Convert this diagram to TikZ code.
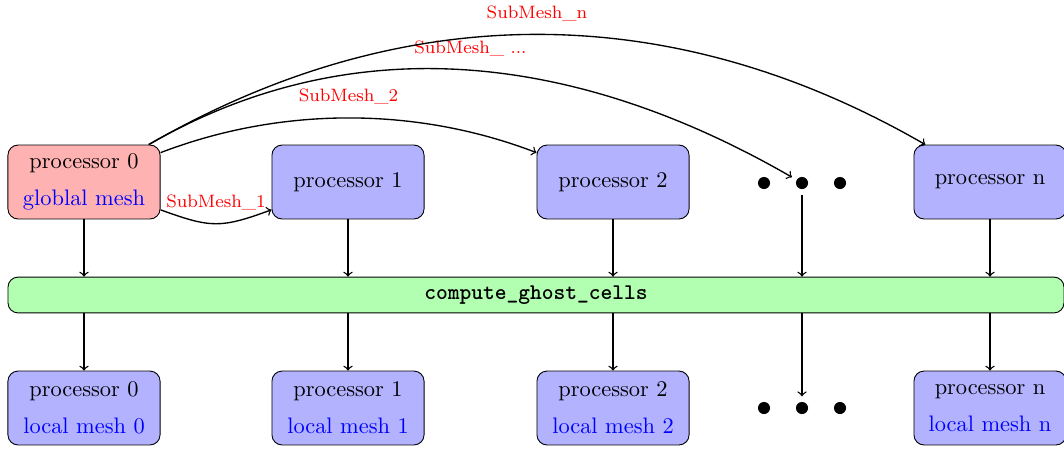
\documentclass[tikz,border=0pt]{standalone}
\begin{document}
\begin{tikzpicture}[x=0.4464pt, y=-0.4464pt,
  procbox/.style={draw, rounded corners=4.5pt, minimum width=67.9pt,
    minimum height=33pt, align=center, fill=blue!30, inner sep=2pt},
  rootbox/.style={procbox, fill=red!30},
  phasebar/.style={draw, rounded corners=4.5pt, minimum width=471.4pt,
    minimum height=16pt, fill=green!30, font=\ttfamily\bfseries},
  dotnode/.style={circle, fill, inner sep=0pt, minimum size=5.4pt, outer sep=2.5pt},
  meshlbl/.style={font=\footnotesize, text=red, above=2.5pt},
  link/.style={->, semithick}]
\useasboundingbox (0,0) rectangle (1064,450);

% processors holding the input meshes
\node[rootbox] (p0) at (84,182) {processor 0\\[4.5pt]{\color{blue}globlal mesh}};
\node[procbox] (p1) at (348,182) {processor 1};
\node[procbox] (p2) at (613,182) {processor 2};
\node[dotnode] (a1) at (764,183) {};
\node[dotnode] (a2) at (802,183) {};
\node[dotnode] (a3) at (840,183) {};
\node[procbox] (pn) at (990,182) {processor n};

% common phase
\node[phasebar] (bar) at (536,295) {compute\_ghost\_cells};

% processors holding the local meshes
\node[procbox] (q0) at (84,408) {processor 0\\[4.5pt]{\color{blue}local mesh 0}};
\node[procbox] (q1) at (348,408) {processor 1\\[4.5pt]{\color{blue}local mesh 1}};
\node[procbox] (q2) at (613,408) {processor 2\\[4.5pt]{\color{blue}local mesh 2}};
\node[dotnode] (b1) at (764,408) {};
\node[dotnode] (b2) at (802,408) {};
\node[dotnode] (b3) at (840,408) {};
\node[procbox] (qn) at (990,408) {processor n\\[4.5pt]{\color{blue}local mesh n}};

% distribution of the sub-meshes
\draw[link] (p0) to[bend right=20, looseness=1.25] node[meshlbl] {SubMesh\_1} (p1);
\draw[link] (p0) to[bend left=21, looseness=0.88] node[meshlbl] {SubMesh\_2} (p2);
\draw[link] (p0) to[out=30, in=150, looseness=0.96] node[meshlbl] {SubMesh\_ ...} (a2);
\draw[link] (p0) to[out=30, in=150, looseness=0.97] node[meshlbl] {SubMesh\_n} (pn);

% into and out of the ghost-cell phase
\foreach \n in {p0,p1,p2,a2,pn}
  \draw[link] (\n) -- (\n |- bar.north);
\foreach \n in {q0,q1,q2,b2,qn}
  \draw[link] (\n |- bar.south) -- (\n);
\end{tikzpicture}
\end{document}
